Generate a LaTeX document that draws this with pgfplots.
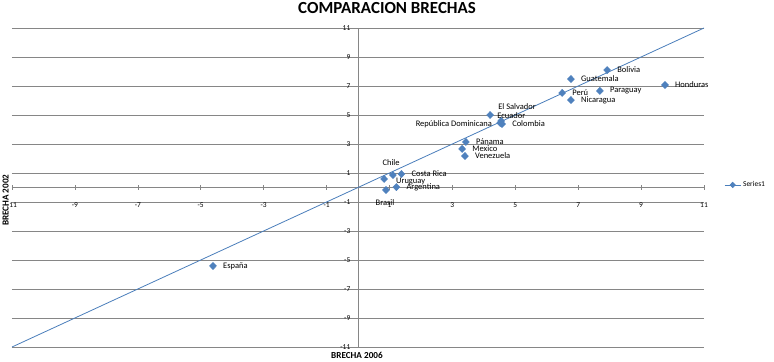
\documentclass[border=0pt]{standalone}
\usepackage{pgfplots}
\pgfplotsset{compat=1.18}
\usepackage{fontspec}
\setmainfont{Carlito}
\definecolor{serblue}{HTML}{4F81BD}
\definecolor{linblue}{HTML}{4A7EBB}
\definecolor{gridgray}{HTML}{868686}

\pgfplotsset{
  lbl/.style n args={3}{forget plot, only marks, mark=none,
    point meta=explicit symbolic, nodes near coords,
    every node near coord/.append style={anchor=#1, xshift=#2bp, yshift=#3bp,
      font=\fontsize{8.5}{10}\selectfont, text=black, inner sep=0pt}},
}

\begin{document}
\begin{tikzpicture}
\path[use as bounding box] (-12bp,-15bp) rectangle (762bp,347bp);
\begin{axis}[
  at={(0,0)}, anchor=south west,
  width=692bp, height=319bp, scale only axis,
  xmin=-11, xmax=11, ymin=-11, ymax=11,
  axis lines=middle,
  axis line style={draw=gridgray, -, line width=0.6bp},
  xtick={-11,-9,...,11}, ytick={-11,-9,...,11},
  ymajorgrids, grid style={draw=gridgray, line width=0.6bp},
  tick style={draw=gridgray, line width=0.6bp},
  tick align=center, major tick length=5bp,
  /pgf/number format/assume math mode=true,
  ticklabel style={font=\fontsize{7.5}{8}\selectfont, inner sep=0pt},
  xticklabel style={anchor=center, yshift=-15bp},
  yticklabel style={anchor=east, xshift=-5bp},
  clip=false,
  title={COMPARACION BRECHAS},
  title style={at={(axis description cs:0.542,1.044)}, anchor=center,
    font=\bfseries\fontsize{17}{20}\selectfont, inner sep=0pt},
  xlabel={BRECHA 2006},
  xlabel style={at={(axis description cs:0.461,-0.025)}, anchor=west,
    font=\bfseries\fontsize{9.2}{11}\selectfont, inner sep=0pt},
  ylabel={BRECHA 2002},
  ylabel style={at={(axis description cs:-0.009,0.46)}, anchor=center, rotate=90,
    font=\bfseries\fontsize{9.2}{11}\selectfont, inner sep=0pt},
  legend style={at={(axis description cs:1.029,0.508)}, anchor=west,
    draw=none, fill=none, font=\fontsize{7.5}{9}\selectfont,
    inner sep=0pt, nodes={inner sep=2bp}},
  legend cell align=left,
]
\addplot[forget plot, no marks, draw=linblue, line width=0.8bp] coordinates {(-11,-11) (11,11)};
\addplot[forget plot, only marks, mark=diamond*, color=serblue, mark size=3.6bp,
  mark options={xscale=1.3, draw=serblue, fill=serblue}] coordinates {
  (7.92,8.10) (6.77,7.48) (9.76,7.07) (6.49,6.52) (7.69,6.66) (6.77,6.03)
  (4.20,5.00) (4.55,4.59) (4.58,4.38) (4.52,4.45) (3.43,3.14) (3.31,2.66)
  (3.40,2.17) (0.83,0.59) (1.11,0.86) (1.38,0.93) (0.89,-0.17) (1.22,0.03)
  (-4.61,-5.41)};
% data labels
\addplot[lbl={west}{10}{0}] coordinates {
  (7.92,8.10) [Bolivia] (6.77,7.48) [Guatemala] (9.76,7.07) [Honduras]
  (6.49,6.52) [Perú] (7.69,6.66) [Paraguay] (6.77,6.03) [Nicaragua]
  (4.58,4.38) [Colombia] (3.43,3.14) [Pánama] (3.31,2.66) [Mexico]
  (3.40,2.17) [Venezuela] (1.38,0.93) [Costa Rica] (1.22,0.03) [Argentina]
  (-4.61,-5.41) [España]};
\addplot[lbl={west}{7}{-1}] coordinates {(4.20,5.00) [Ecuador]};
\addplot[lbl={west}{-3}{14}] coordinates {(4.55,4.59) [El Salvador]};
\addplot[lbl={east}{-8}{-1}] coordinates {(4.52,4.45) [República Dominicana]};
\addplot[lbl={center}{7}{16}] coordinates {(0.83,0.59) [Chile]};
\addplot[lbl={west}{3}{-6}] coordinates {(1.11,0.86) [Uruguay]};
\addplot[lbl={center}{-1}{-13}] coordinates {(0.89,-0.17) [Brasil]};
\addlegendimage{sharp plot, draw=linblue, line width=0.8bp,
  mark=diamond*, mark size=2.6bp, mark options={xscale=1.3, fill=serblue, draw=serblue},
  legend image code/.code={
    \draw[mark repeat=2, mark phase=2]
      plot coordinates {(0bp,0bp) (8bp,0bp) (16bp,0bp)};}}
\addlegendentry{Series1}
\end{axis}
\end{tikzpicture}
\end{document}
